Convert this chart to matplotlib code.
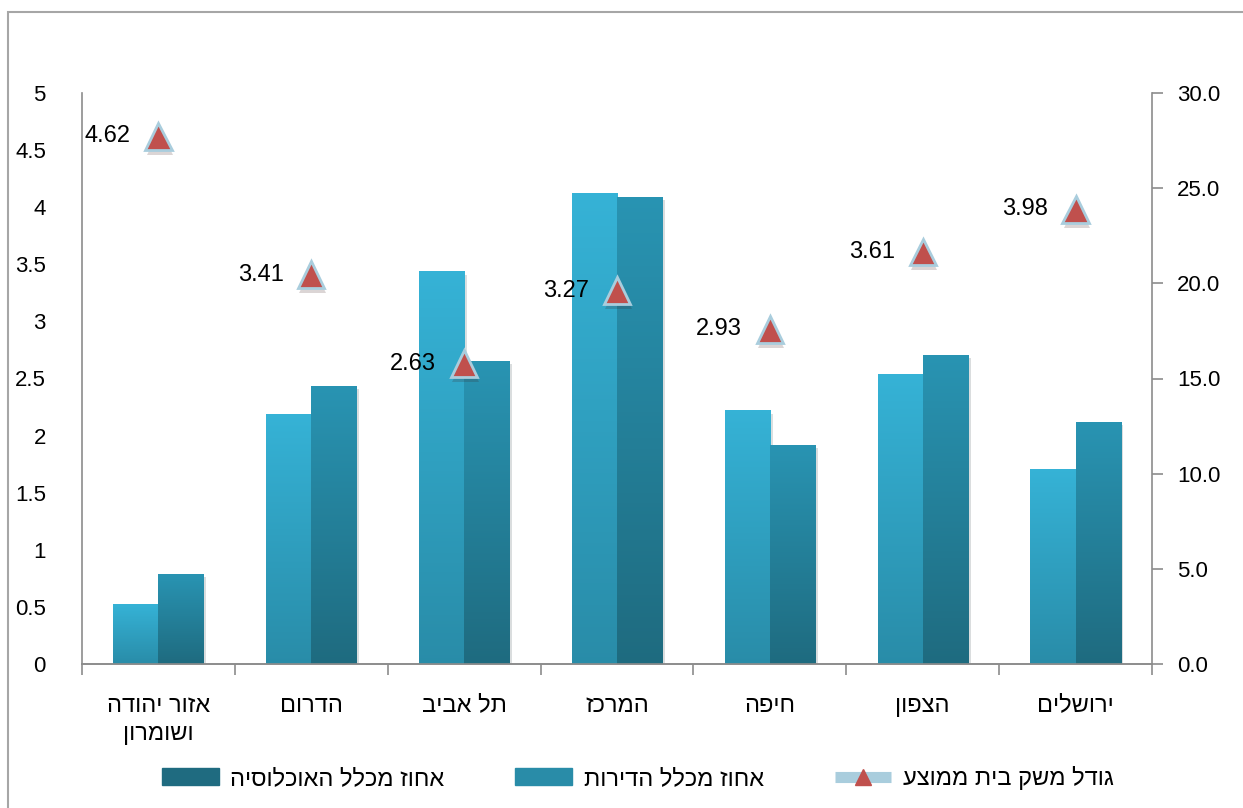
import numpy as np
import matplotlib
matplotlib.use("Agg")
import matplotlib.pyplot as plt
from matplotlib.patches import Rectangle
from matplotlib.lines import Line2D
import matplotlib.patheffects as pe

plt.rcParams['font.family'] = ['Liberation Sans', 'DejaVu Sans']

# data
regions = ["אזור יהודה\nושומרון", "הדרום", "תל אביב", "המרכז", "חיפה", "הצפון", "ירושלים"]
pct_dwellings = [3.1, 13.1, 20.6, 24.7, 13.3, 15.2, 10.2]
pct_population = [4.7, 14.6, 15.9, 24.5, 11.5, 16.2, 12.7]
household_size = [4.62, 3.41, 2.63, 3.27, 2.93, 3.61, 3.98]

lbl_dwell = "אחוז מכלל הדירות"
lbl_pop = "אחוז מכלל האוכלוסיה"
lbl_hh = "גודל משק בית ממוצע"


def heb(s):
    # matplotlib has no bidi support -> reverse each line to visual order
    return "\n".join(line[::-1] for line in s.split("\n"))


W, H = 1243, 808
fig = plt.figure(figsize=(W / 100, H / 100), dpi=100)
fig.patches.append(Rectangle((8 / W, -0.1), 1.2, (H - 12) / H + 0.1, transform=fig.transFigure,
                             fill=False, ec="#A6A6A6", lw=1.5))

ax = fig.add_axes([82 / W, (H - 664) / H, (1152 - 82) / W, (664 - 93) / H])
ax2 = ax.twinx()
ax.set_zorder(ax2.get_zorder() + 1)
ax.patch.set_visible(False)

x = np.arange(len(regions))
bw = 0.295
grey = "#8C8C8C"


def gradient_bars(axis, xs, vals, top, bottom):
    bars = axis.bar(xs, vals, bw, color=bottom, zorder=2,
                    path_effects=[pe.SimplePatchShadow(offset=(2, -2), alpha=0.15), pe.Normal()])
    grad = np.linspace(0, 1, 128)[:, None, None]
    img = np.array(bottom)[None, None, :] * (1 - grad) + np.array(top)[None, None, :] * grad
    for b in bars:
        x0, y0 = b.get_x(), b.get_y()
        axis.imshow(img, extent=(x0, x0 + b.get_width(), y0, y0 + b.get_height()),
                    origin="lower", aspect="auto", zorder=3)
    return bars


light_top, light_bot = (0.21, 0.70, 0.84), (0.16, 0.55, 0.66)
dark_top, dark_bot = (0.16, 0.58, 0.70), (0.12, 0.42, 0.50)
gradient_bars(ax2, x - bw / 2, pct_dwellings, light_top, light_bot)
gradient_bars(ax2, x + bw / 2, pct_population, dark_top, dark_bot)

ax2.set_ylim(0, 30)
ax2.set_yticks(np.arange(0, 31, 5))
ax2.set_yticklabels([f"{v:.1f}" for v in np.arange(0, 31, 5)])
ax2.tick_params(axis="y", direction="out", length=8, width=1.2, color=grey, labelsize=16, pad=10)

ax.plot(x, household_size, linestyle="none", marker="^", ms=19, mfc="#C0504D", mec="#A9CDDD", mew=2,
        zorder=5, path_effects=[pe.SimplePatchShadow(offset=(1, -4), alpha=0.18), pe.Normal()])
for xi, v in zip(x, household_size):
    ax.annotate(f"{v:.2f}", (xi, v), xytext=(-20, 0), textcoords="offset points",
                ha="right", va="center", fontsize=17)

ax.set_ylim(0, 5)
ax.set_yticks(np.arange(0, 5.01, 0.5))
ax.set_yticklabels(["0", "0.5", "1", "1.5", "2", "2.5", "3", "3.5", "4", "4.5", "5"])
ax.tick_params(axis="y", length=0, labelsize=16, pad=26)

ax.set_xlim(-0.5, len(regions) - 0.5)
ax.set_xticks(x)
ax.set_xticklabels([heb(r) for r in regions], fontsize=17, va="top", linespacing=1.35)
ax.tick_params(axis="x", length=0, pad=22)
ax.set_xticks(np.arange(-0.5, len(regions)), minor=True)
ax.tick_params(axis="x", which="minor", length=8, width=1.2, color=grey)

for a in (ax, ax2):
    a.spines["top"].set_visible(False)
    for s in ("left", "right", "bottom"):
        a.spines[s].set_color(grey)
        a.spines[s].set_linewidth(1.2)
ax.spines["right"].set_visible(False)
ax2.spines["left"].set_visible(False)

handles = [
    Rectangle((0, 0), 1, 1, color=dark_bot),
    Rectangle((0, 0), 1, 1, color=light_bot),
    Line2D([], [], color="#A9CDDD", lw=8, marker="^", ms=12, mfc="#C0504D", mec="#C0504D", solid_capstyle="butt"),
]
fig.legend(handles, [heb(lbl_pop), heb(lbl_dwell), heb(lbl_hh)], loc="center",
           bbox_to_anchor=(638 / W, (H - 778) / H), ncol=3, frameon=False, fontsize=17,
           markerfirst=True, handlelength=2.4, handleheight=0.7, columnspacing=3.0, handletextpad=0.5)

fig.savefig("out.png", dpi=100)
